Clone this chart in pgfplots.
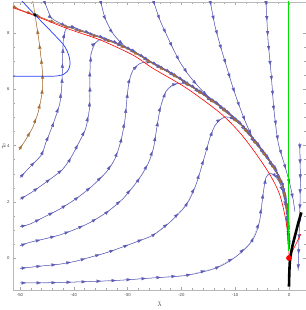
\documentclass[border=0pt]{standalone}
\usepackage{fontspec}
\setmainfont{Liberation Sans}
\usepackage{pgfplots}
\pgfplotsset{compat=1.18}
\usetikzlibrary{decorations.markings,arrows.meta}
\definecolor{sl}{RGB}{92,92,182}
\definecolor{brn}{RGB}{165,110,55}
\definecolor{bl}{RGB}{40,60,245}
\definecolor{grn}{RGB}{0,225,0}
\tikzset{
 arr/.style={draw=#1, line width=0.05bp, postaction={decorate},
   decoration={markings, mark=between positions 6bp and 1 step 15bp with {\arrow{Triangle[length=4.3bp,width=3.1bp,color=#1]}}}},
}
\newcommand{\flow}[2]{%
 \addplot[#1, line width=0.5bp, smooth, tension=0.55] coordinates {#2};
 \addplot[arr=#1] coordinates {#2};
}
\begin{document}
\begin{tikzpicture}
\begin{axis}[
 scale only axis, width=293bp, height=288bp,
 xmin=-51.3, xmax=3.16, ymin=-1.14, ymax=9.11,
 xtick={-50,-40,-30,-20,-10,0}, ytick={0,2,4,6,8},
 minor x tick num=4, minor y tick num=3,
 tick align=inside,
 major tick length=3bp, minor tick length=1.6bp,
 axis line style={gray!55, line width=0.4bp},
 every tick/.style={gray!70, line width=0.35bp},
 tick label style={font=\fontsize{4.3}{5}\selectfont, text=gray!50!black},
 /pgf/number format/assume math mode=true,
 xlabel={$\bar{\lambda}$}, ylabel={$\bar{\mu}$},
 every axis x label/.style={at={(axis description cs:0.5,0)}, anchor=north, yshift=-11.5bp, inner sep=0pt, font=\fontsize{6}{7}\selectfont, text=gray!40!black},
 every axis y label/.style={at={(axis description cs:0,0.5)}, anchor=east, xshift=-6.5bp, inner sep=0pt, font=\fontsize{6}{7}\selectfont, text=gray!40!black},
 clip=true,
]
\coordinate (sw) at (rel axis cs:0,0);
\coordinate (ne) at (rel axis cs:1,1);
% bottom streamlines
\flow{sl}{(-50,-0.89) (-44,-0.88) (-38.8,-0.85) (-32,-0.8) (-25.3,-0.71) (-19.1,-0.62) (-13.6,-0.36) (-9.9,0.04) (-6.9,0.6) (-5.5,1.28) (-4.8,2.3) (-4.3,2.85) (-3.6,3.0) (-2.7,2.95) (-1.6,2.62) (-0.8,2.1) (-0.35,1.55) (-0.12,0.82) (-0.03,0.3)}
\flow{sl}{(-50,-0.37) (-48.1,-0.33) (-45.7,-0.28) (-42.6,-0.22) (-39.5,-0.11) (-36.7,0.04) (-33.9,0.19) (-30.8,0.40) (-28.0,0.60) (-25.2,0.82) (-22.1,1.28) (-19.1,1.89) (-17.3,2.6) (-15.6,3.67) (-14.7,4.28) (-13.8,4.7) (-12.8,4.92) (-11.8,5.02) (-10.6,4.98) (-9.4,4.82) (-8.6,4.68) (-4.8,3.76) (-2.6,3.15) (-1.1,2.51) (-0.37,1.73) (-0.1,0.84) (0,0.32)}
\flow{sl}{(-50,0.44) (-48.1,0.56) (-45.4,0.68) (-42.6,0.82) (-39.6,1.03) (-36.7,1.29) (-33.7,1.65) (-30.8,2.12) (-28,2.78) (-26.2,3.35) (-25.2,3.9) (-24.6,4.6) (-23.9,5.35) (-22.9,5.92) (-21.5,6.17) (-20.2,6.22) (-18.8,6.17) (-17.3,6.02) (-12.8,5.41) (-8.6,4.7) (-4.8,3.78) (-2.6,3.17) (-1.1,2.53) (-0.35,1.75) (-0.08,0.86) (0.02,0.33)}
\flow{sl}{(-50,1.11) (-48.1,1.21) (-45.4,1.47) (-42.6,1.74) (-39.5,2.12) (-36.7,2.54) (-33.9,3.07) (-32.3,3.55) (-31.2,4.2) (-30.5,4.91) (-30.1,5.7) (-29.7,6.3) (-28.9,6.72) (-27.7,6.92) (-26.5,6.98) (-25.3,6.94) (-21.6,6.55) (-17.3,6.02) (-12.8,5.41) (-8.6,4.7) (-4.8,3.78) (-2.6,3.16) (-1.1,2.52) (-0.36,1.74) (-0.09,0.85) (0.01,0.33)}
\flow{sl}{(-50,2.09) (-47.8,2.34) (-45,2.72) (-42.2,3.13) (-40.6,3.55) (-39.2,4.05) (-37.8,4.6) (-37.1,5.3) (-37,6.0) (-37,6.6) (-36.8,7.25) (-36,7.65) (-34.8,7.8) (-33.4,7.76) (-32,7.65) (-29,7.37) (-25.3,6.93) (-21.6,6.53) (-17.3,6.0) (-12.8,5.39) (-8.6,4.68) (-4.8,3.76) (-2.6,3.15) (-1.1,2.51) (-0.37,1.73) (-0.1,0.84) (0,0.32)}
\flow{sl}{(-50,2.86) (-48.1,3.25) (-46,3.67) (-45.2,4.1) (-43.8,4.79) (-42.6,5.5) (-42.2,6.22) (-42.1,7.05) (-41.9,7.85) (-41.3,8.2) (-40.2,8.22) (-38.2,8.08) (-35.1,7.88) (-32,7.65) (-29,7.38) (-25.3,6.95) (-21.6,6.56) (-17.3,6.03) (-12.8,5.42) (-8.6,4.71) (-4.8,3.79) (-2.6,3.18) (-1.1,2.54) (-0.34,1.76) (-0.07,0.87) (0.03,0.34)}
% top streamlines
\flow{sl}{(-45.6,9.2) (-45.0,8.9) (-44.2,8.55) (-43.2,8.42) (-41.3,8.24) (-38.2,8.05) (-35.1,7.85) (-32,7.62) (-29,7.35) (-25.3,6.92) (-21.6,6.52) (-17.3,5.99) (-12.8,5.38) (-8.6,4.67) (-4.8,3.75) (-2.6,3.14) (-1.1,2.5) (-0.37,1.72) (-0.1,0.83) (0,0.31)}
\flow{sl}{(-35.1,9.2) (-34.2,8.54) (-32.9,8.04) (-31.4,7.69) (-30,7.46) (-29,7.36) (-25.3,6.93) (-21.6,6.53) (-17.3,6.0) (-12.8,5.39) (-8.6,4.68) (-4.8,3.76) (-2.6,3.15) (-1.1,2.51) (-0.37,1.73) (-0.1,0.84) (0,0.32)}
\flow{sl}{(-25.3,9.2) (-24,8.47) (-22.9,8.0) (-21.6,7.47) (-20.3,6.98) (-18.8,6.55) (-17.3,6.2) (-15.6,5.85) (-13.8,5.56) (-12.8,5.42) (-8.6,4.71) (-4.8,3.79) (-2.6,3.18) (-1.1,2.54) (-0.34,1.76) (-0.07,0.87) (0.03,0.34)}
\flow{sl}{(-14.7,9.2) (-13.8,8.29) (-12.8,7.58) (-11.7,6.87) (-10.4,6.05) (-9.1,5.34) (-8.0,4.8) (-6.7,4.27) (-4.8,3.8) (-2.6,3.19) (-1.1,2.55) (-0.33,1.77) (-0.06,0.88) (0.04,0.35)}
\flow{sl}{(-4.3,9.2) (-3.9,7.76) (-3.3,6.51) (-2.8,5.27) (-2.0,4.09) (-0.8,3.3) (0.2,2.6) (0.8,2.05) (1.1,1.65)}
\flow{sl}{(2.0,4.1) (2.1,3.0) (2.05,2.0) (1.85,0.6) (1.7,-0.45)}
% brown separatrix
\flow{brn}{(-50.2,3.84) (-48.8,4.25) (-47.6,4.66) (-46.6,5.2) (-45.9,5.87) (-45.8,6.4) (-45.9,6.8) (-46.2,7.3) (-46.5,7.76) (-47.2,8.65)}
\addplot[brn, line width=0.5bp, smooth] coordinates {(-47.2,8.65) (-47.5,9.0) (-47.8,9.3)};
\flow{brn}{(-51.5,8.97) (-49.5,8.8) (-47.2,8.65)}
\flow{brn}{(-47.2,8.65) (-44.4,8.44) (-41.3,8.23) (-38.2,8.04) (-35.1,7.84) (-32,7.61) (-29,7.34) (-25.3,6.91) (-21.6,6.52) (-17.3,5.99) (-12.8,5.38) (-8.6,4.67) (-4.8,3.75) (-2.6,3.14) (-1.1,2.5) (-0.37,1.72) (-0.1,0.83) (0,0.31)}
% red curve
\addplot[red, line width=0.6bp, smooth, tension=0.5] coordinates {(-51.5,8.92) (-47.2,8.62) (-41.3,8.17) (-35.1,7.76) (-29,7.22) (-25.3,6.75) (-19.1,6.05) (-12.8,5.16) (-9.1,4.45) (-6.1,3.7) (-3.5,2.95) (-1.7,2.24) (-0.6,1.35) (-0.1,0.6) (0,0)};
\addplot[red, line width=0.6bp] coordinates {(0,0) (1.0,0.38) (2.2,0.85)};
% blue curve
\addplot[bl, line width=0.7bp, smooth, tension=0.6] coordinates {(-49.9,9.2) (-47.2,8.65) (-43.9,8.0) (-41.6,7.5) (-40.7,6.98) (-41.3,6.62) (-43.1,6.48) (-47.6,6.47) (-51.5,6.47)};
% green line
\addplot[draw=grn, line width=1bp] coordinates {(0,0.25) (0,9.2)};
% black thick line
\addplot[black, line width=2.6bp, smooth] coordinates {(0,-1.02) (0.06,-0.53) (0.19,-0.07) (0.61,0.40) (1.25,0.89) (1.73,1.25) (2.3,1.62)};
% points
\addplot[only marks, mark=*, mark size=2.6bp, red, mark options={draw=red, fill=red}] coordinates {(0,0)};
\addplot[only marks, mark=*, mark size=1.5bp, black] coordinates {(-47.2,8.65)};
\end{axis}
\pgfresetboundingbox
\path ([shift={(-13bp,-20bp)}]sw) rectangle ([shift={(0bp,2bp)}]ne);
\end{tikzpicture}
\end{document}
